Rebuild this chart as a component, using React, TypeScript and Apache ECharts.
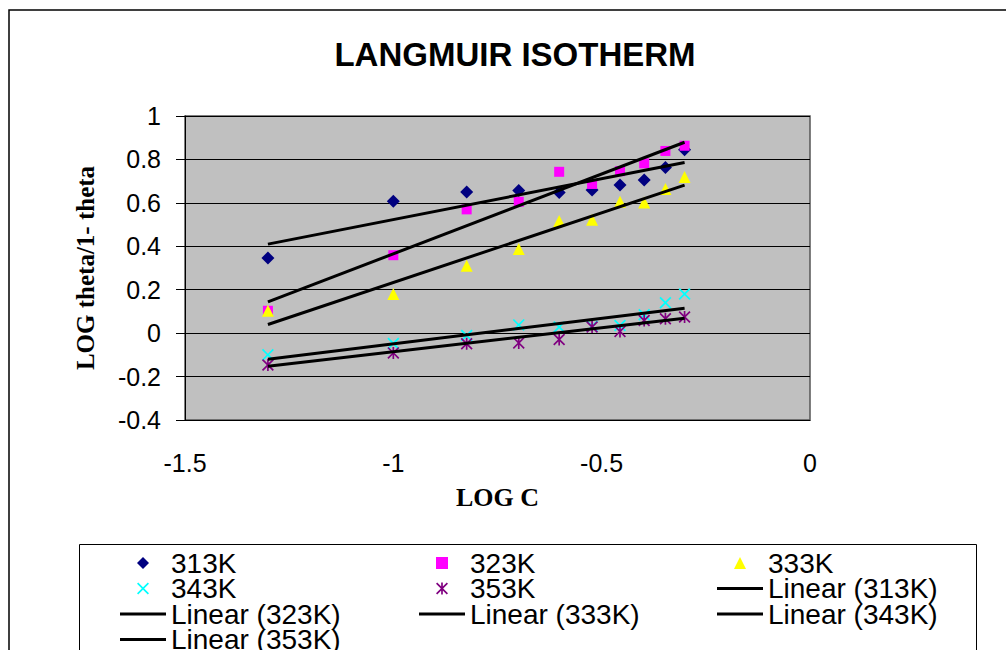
import React, { useEffect, useRef } from "react";
import * as echarts from "echarts";

const logC = [-1.301, -1, -0.824, -0.699, -0.602, -0.523, -0.456, -0.398, -0.347, -0.301];
const s313 = [0.346, 0.607, 0.65, 0.657, 0.648, 0.659, 0.682, 0.705, 0.763, 0.845];
const s323 = [0.103, 0.359, 0.57, 0.605, 0.743, 0.687, 0.746, 0.782, 0.839, 0.863];
const s333 = [0.103, 0.18, 0.31, 0.387, 0.517, 0.522, 0.605, 0.602, 0.664, 0.719];
const s343 = [-0.1, -0.048, -0.011, 0.038, 0.028, 0.032, 0.035, 0.085, 0.14, 0.18];
const s353 = [-0.147, -0.091, -0.049, -0.045, -0.029, 0.028, 0.008, 0.058, 0.066, 0.074];

const trendX = [-1.301, -0.301];
const t313 = [0.41, 0.786];
const t323 = [0.144, 0.879];
const t333 = [0.04, 0.682];
const t343 = [-0.12, 0.115];
const t353 = [-0.152, 0.069];

const seriesNames = ["313K", "323K", "333K", "343K", "353K"];
const trendNames = ["Linear (313K)", "Linear (323K)", "Linear (333K)", "Linear (343K)", "Linear (353K)"];

const SANS = 'Arial, "Liberation Sans", sans-serif';
const SERIF = '"Times New Roman", "Liberation Serif", serif';

const DIAMOND_PATH = "path://M5,0 L10,5 L5,10 L0,5 Z";
const SQUARE_PATH = "path://M0,0 L10,0 L10,10 L0,10 Z";
const TRIANGLE_PATH = "path://M5,0 L10,10 L0,10 Z";
const X_PATH = "path://M0,1 L1,0 L5,4 L9,0 L10,1 L6,5 L10,9 L9,10 L5,6 L1,10 L0,9 L4,5 Z";
const STAR_PATH =
  "path://M0,1 L1,0 L5,4 L9,0 L10,1 L6,5 L10,9 L9,10 L5,6 L1,10 L0,9 L4,5 Z M4.3,0 L5.7,0 L5.7,10 L4.3,10 Z";
const LINE_ICON = "path://M0,0 L46,0 L46,3 L0,3 Z";

export default function App() {
  const ref = useRef<HTMLDivElement>(null);
  useEffect(() => {
    if (!ref.current) return;
    const chart = echarts.init(ref.current, null, { renderer: "svg" });
    const pts = (ys: number[]) => logC.map((x, i) => [x, ys[i]]);
    const tl = (ys: number[]) => trendX.map((x, i) => [x, ys[i]]);
    const scatterDefs = [
      { name: seriesNames[0], data: s313, symbol: DIAMOND_PATH, size: 13, color: "#000080" },
      { name: seriesNames[1], data: s323, symbol: SQUARE_PATH, size: 10, color: "#FF00FF" },
      { name: seriesNames[2], data: s333, symbol: TRIANGLE_PATH, size: 12, color: "#FFFF00" },
      { name: seriesNames[3], data: s343, symbol: X_PATH, size: 12, color: "#00FFFF" },
      { name: seriesNames[4], data: s353, symbol: STAR_PATH, size: 12, color: "#800080" },
    ];
    const trends = [t313, t323, t333, t343, t353];
    const legendText = { fontSize: 28, lineHeight: 25, fontFamily: SANS, color: "#000" };
    const legendCommon = {
      orient: "vertical",
      top: 549,
      height: 200,
      itemWidth: 46,
      itemHeight: 12,
      itemGap: -2.5,
      selectedMode: false,
      symbolKeepAspect: true,
      textStyle: legendText,
      padding: 0,
    };
    const item = (n: string) =>
      n.startsWith("Linear") ? { name: n, icon: LINE_ICON, itemStyle: { color: "#000" } } : { name: n };
    chart.setOption({
      animation: false,
      backgroundColor: "#fff",
      title: {
        text: "LANGMUIR ISOTHERM",
        left: 510,
        top: 33,
        textAlign: "center",
        textStyle: { fontSize: 33, fontWeight: "bold", fontFamily: SANS, color: "#000" },
      },
      graphic: [
        {
          type: "rect",
          shape: { x: 9, y: 10, width: 1100, height: 700 },
          style: { fill: "none", stroke: "#000", lineWidth: 1.5 },
          silent: true,
          z: -10,
        },
        {
          type: "rect",
          shape: { x: 79.5, y: 544.5, width: 897, height: 200 },
          style: { fill: "none", stroke: "#000", lineWidth: 1 },
          silent: true,
        },
      ],
      legend: [
        { ...legendCommon, left: 120, data: ["313K", "343K", "Linear (323K)", "Linear (353K)"].map(item) },
        { ...legendCommon, left: 419, data: ["323K", "353K", "Linear (333K)"].map(item) },
        { ...legendCommon, left: 717, data: ["333K", "Linear (313K)", "Linear (343K)"].map(item) },
      ],
      grid: {
        left: 185,
        top: 116,
        right: 196,
        bottom: 230,
        show: true,
        backgroundColor: "#C0C0C0",
        borderColor: "#555",
        borderWidth: 1.5,
      },
      xAxis: {
        type: "value",
        min: -1.5,
        max: 0,
        interval: 0.5,
        name: "LOG C",
        nameLocation: "middle",
        nameGap: 64,
        nameTextStyle: { fontSize: 26, fontWeight: "bold", fontFamily: SERIF, color: "#000" },
        axisLine: { show: true, onZero: false, lineStyle: { color: "#000", width: 1 } },
        axisTick: { show: false },
        splitLine: { show: false },
        axisLabel: { fontSize: 25, fontFamily: SANS, color: "#000", margin: 30 },
      },
      yAxis: {
        type: "value",
        min: -0.4,
        max: 1,
        interval: 0.2,
        name: "LOG theta/1- theta",
        nameLocation: "middle",
        nameGap: 87,
        nameTextStyle: { fontSize: 25, fontWeight: "bold", fontFamily: SERIF, color: "#000" },
        axisLine: { show: true, onZero: false, lineStyle: { color: "#000", width: 1 } },
        axisTick: { show: true, inside: false, length: 9, lineStyle: { color: "#000" } },
        splitLine: { show: true, lineStyle: { color: "#000", width: 1 } },
        axisLabel: {
          fontSize: 25,
          fontFamily: SANS,
          color: "#000",
          margin: 24,
          formatter: (v: number) => String(Math.round(v * 10) / 10),
        },
      },
      series: [
        ...scatterDefs.map((d) => ({
          type: "scatter",
          name: d.name,
          data: pts(d.data),
          symbol: d.symbol,
          symbolSize: d.size,
          itemStyle: { color: d.color, opacity: 1 },
          z: 2,
        })),
        ...trends.map((t, i) => ({
          type: "line",
          name: trendNames[i],
          data: tl(t),
          symbol: "none",
          showSymbol: false,
          itemStyle: { color: "#000" },
          lineStyle: { color: "#000", width: 3 },
          z: 3,
        })),
      ],
    });
    return () => chart.dispose();
  }, []);
  return (
    <div
      ref={ref}
      style={{ position: "absolute", left: 0, top: 0, width: 1006, height: 650 }}
    />
  );
}
